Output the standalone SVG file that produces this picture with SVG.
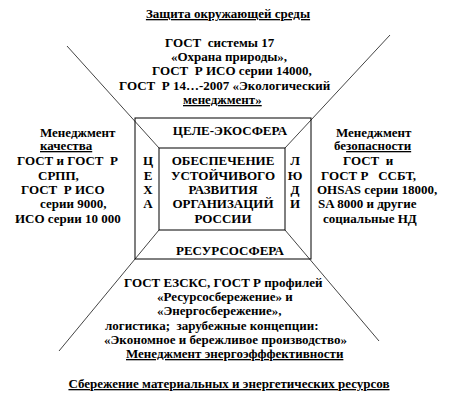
<svg xmlns="http://www.w3.org/2000/svg" width="458" height="402" viewBox="0 0 458 402">
<style>
text{font-family:"Liberation Serif","Times New Roman",serif;font-weight:bold;font-size:13px;fill:#000;white-space:pre}
.u{text-decoration:underline}
.m{text-anchor:middle}
.box{fill:none;stroke:#000;stroke-width:1}
.diag{stroke:#444;stroke-width:1}
</style>
<rect width="458" height="402" fill="#fff"/>
<g id="connectors">
<line class="diag" x1="67" y1="46" x2="159" y2="148"/>
<line class="diag" x1="390" y1="35" x2="285" y2="148"/>
<line class="diag" x1="59" y1="351" x2="159" y2="230"/>
<line class="diag" x1="379" y1="341" x2="285" y2="230"/>
</g>
<g id="outer">
<rect class="box" x="135" y="118" width="176" height="141"/>
</g>
<g id="center">
<rect class="box" x="159" y="148" width="126" height="82" fill="#fff"/>
<text class="m" x="223" y="165">ОБЕСПЕЧЕНИЕ</text>
<text class="m" x="223" y="180">УСТОЙЧИВОГО</text>
<text class="m" x="223" y="194">РАЗВИТИЯ</text>
<text class="m" x="223" y="208">ОРГАНИЗАЦИЙ</text>
<text class="m" x="223" y="223">РОССИИ</text>
</g>
<g id="ecosphere"><text class="m" x="230" y="135">ЦЕЛЕ-ЭКОСФЕРА</text></g>
<g id="resourcesphere"><text class="m" x="230" y="255">РЕСУРСОСФЕРА</text></g>
<g id="shops">
<text class="m" x="148" y="165">Ц</text>
<text class="m" x="148" y="180">Е</text>
<text class="m" x="148" y="194">Х</text>
<text class="m" x="148" y="208">А</text>
</g>
<g id="people">
<text class="m" x="295" y="165">Л</text>
<text class="m" x="295" y="180">Ю</text>
<text class="m" x="295" y="194">Д</text>
<text class="m" x="295" y="208">И</text>
</g>
<g id="top">
<text class="u m" x="228" y="18">Защита окружающей среды</text>
<text x="165" y="47">ГОСТ  системы 17</text>
<text x="171" y="61">«Охрана природы»,</text>
<text x="152" y="75">ГОСТ  Р ИСО серии 14000,</text>
<text x="119" y="90">ГОСТ  Р 14…-2007 «Экологический</text>
<text class="u" x="183" y="104">менеджмент»</text>
</g>
<g id="left">
<text x="40" y="137">Менеджмент</text>
<text class="u" x="40" y="150">качества</text>
<text x="17" y="165">ГОСТ и ГОСТ  Р</text>
<text x="38" y="180">СРПП,</text>
<text x="21" y="194">ГОСТ  Р ИСО</text>
<text x="40" y="208">серии 9000,</text>
<text x="15" y="223">ИСО серии 10 000</text>
</g>
<g id="right">
<text x="336" y="137">Менеджмент</text>
<text x="334" y="150">бе<tspan class="u">зопасности</tspan></text>
<text x="343" y="165">ГОСТ  и</text>
<text x="321" y="180">ГОСТ Р   ССБТ,</text>
<text x="317" y="194">OHSAS серии 18000,</text>
<text x="318" y="208">SA 8000 и другие</text>
<text x="323" y="223">социальные НД</text>
</g>
<g id="bottom">
<text x="124" y="287">ГОСТ ЕЗСКС, ГОСТ Р профилей</text>
<text x="157" y="301">«Ресурсосбережение» и</text>
<text x="157" y="315">«Энергосбережение»,</text>
<text x="105" y="330">логистика;  зарубежные концепции:</text>
<text x="104" y="344">«Экономное и бережливое производство»</text>
<text class="u" x="126" y="358">Менеджмент энергоэфффективности</text>
<text class="u m" x="229" y="388">Сбережение материальных и энергетических ресурсов</text>
</g>
</svg>
